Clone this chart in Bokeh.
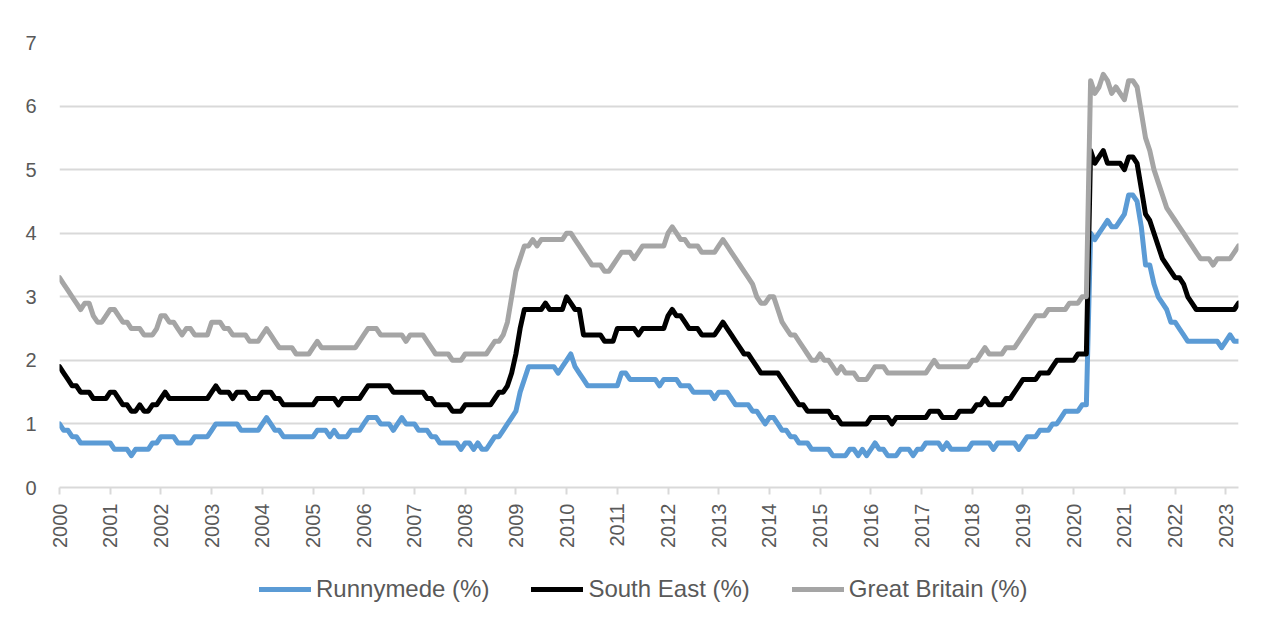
import math
from bokeh.plotting import figure
from bokeh.layouts import column
from bokeh.models import Range1d, FixedTicker, Legend, LegendItem
from bokeh.embed import file_html
from bokeh.resources import INLINE

# Monthly claimant rates, Jan 2000 .. Apr 2023 (one row per year)
runnymede = [
    1.0, 0.9, 0.9, 0.8, 0.8, 0.7, 0.7, 0.7, 0.7, 0.7, 0.7, 0.7,  # 2000
    0.7, 0.6, 0.6, 0.6, 0.6, 0.5, 0.6, 0.6, 0.6, 0.6, 0.7, 0.7,  # 2001
    0.8, 0.8, 0.8, 0.8, 0.7, 0.7, 0.7, 0.7, 0.8, 0.8, 0.8, 0.8,  # 2002
    0.9, 1.0, 1.0, 1.0, 1.0, 1.0, 1.0, 0.9, 0.9, 0.9, 0.9, 0.9,  # 2003
    1.0, 1.1, 1.0, 0.9, 0.9, 0.8, 0.8, 0.8, 0.8, 0.8, 0.8, 0.8,  # 2004
    0.8, 0.9, 0.9, 0.9, 0.8, 0.9, 0.8, 0.8, 0.8, 0.9, 0.9, 0.9,  # 2005
    1.0, 1.1, 1.1, 1.1, 1.0, 1.0, 1.0, 0.9, 1.0, 1.1, 1.0, 1.0,  # 2006
    1.0, 0.9, 0.9, 0.9, 0.8, 0.8, 0.7, 0.7, 0.7, 0.7, 0.7, 0.6,  # 2007
    0.7, 0.7, 0.6, 0.7, 0.6, 0.6, 0.7, 0.8, 0.8, 0.9, 1.0, 1.1,  # 2008
    1.2, 1.5, 1.7, 1.9, 1.9, 1.9, 1.9, 1.9, 1.9, 1.9, 1.8, 1.9,  # 2009
    2.0, 2.1, 1.9, 1.8, 1.7, 1.6, 1.6, 1.6, 1.6, 1.6, 1.6, 1.6,  # 2010
    1.6, 1.8, 1.8, 1.7, 1.7, 1.7, 1.7, 1.7, 1.7, 1.7, 1.6, 1.7,  # 2011
    1.7, 1.7, 1.7, 1.6, 1.6, 1.6, 1.5, 1.5, 1.5, 1.5, 1.5, 1.4,  # 2012
    1.5, 1.5, 1.5, 1.4, 1.3, 1.3, 1.3, 1.3, 1.2, 1.2, 1.1, 1.0,  # 2013
    1.1, 1.1, 1.0, 0.9, 0.9, 0.8, 0.8, 0.7, 0.7, 0.7, 0.6, 0.6,  # 2014
    0.6, 0.6, 0.6, 0.5, 0.5, 0.5, 0.5, 0.6, 0.6, 0.5, 0.6, 0.5,  # 2015
    0.6, 0.7, 0.6, 0.6, 0.5, 0.5, 0.5, 0.6, 0.6, 0.6, 0.5, 0.6,  # 2016
    0.6, 0.7, 0.7, 0.7, 0.7, 0.6, 0.7, 0.6, 0.6, 0.6, 0.6, 0.6,  # 2017
    0.7, 0.7, 0.7, 0.7, 0.7, 0.6, 0.7, 0.7, 0.7, 0.7, 0.7, 0.6,  # 2018
    0.7, 0.8, 0.8, 0.8, 0.9, 0.9, 0.9, 1.0, 1.0, 1.1, 1.2, 1.2,  # 2019
    1.2, 1.2, 1.3, 1.3, 4.0, 3.9, 4.0, 4.1, 4.2, 4.1, 4.1, 4.2,  # 2020
    4.3, 4.6, 4.6, 4.5, 4.1, 3.5, 3.5, 3.2, 3.0, 2.9, 2.8, 2.6,  # 2021
    2.6, 2.5, 2.4, 2.3, 2.3, 2.3, 2.3, 2.3, 2.3, 2.3, 2.3, 2.2,  # 2022
    2.3, 2.4, 2.3, 2.3,                                          # 2023
]

south_east = [
    1.9, 1.8, 1.7, 1.6, 1.6, 1.5, 1.5, 1.5, 1.4, 1.4, 1.4, 1.4,  # 2000
    1.5, 1.5, 1.4, 1.3, 1.3, 1.2, 1.2, 1.3, 1.2, 1.2, 1.3, 1.3,  # 2001
    1.4, 1.5, 1.4, 1.4, 1.4, 1.4, 1.4, 1.4, 1.4, 1.4, 1.4, 1.4,  # 2002
    1.5, 1.6, 1.5, 1.5, 1.5, 1.4, 1.5, 1.5, 1.5, 1.4, 1.4, 1.4,  # 2003
    1.5, 1.5, 1.5, 1.4, 1.4, 1.3, 1.3, 1.3, 1.3, 1.3, 1.3, 1.3,  # 2004
    1.3, 1.4, 1.4, 1.4, 1.4, 1.4, 1.3, 1.4, 1.4, 1.4, 1.4, 1.4,  # 2005
    1.5, 1.6, 1.6, 1.6, 1.6, 1.6, 1.6, 1.5, 1.5, 1.5, 1.5, 1.5,  # 2006
    1.5, 1.5, 1.5, 1.4, 1.4, 1.3, 1.3, 1.3, 1.3, 1.2, 1.2, 1.2,  # 2007
    1.3, 1.3, 1.3, 1.3, 1.3, 1.3, 1.3, 1.4, 1.5, 1.5, 1.6, 1.8,  # 2008
    2.1, 2.5, 2.8, 2.8, 2.8, 2.8, 2.8, 2.9, 2.8, 2.8, 2.8, 2.8,  # 2009
    3.0, 2.9, 2.8, 2.8, 2.4, 2.4, 2.4, 2.4, 2.4, 2.3, 2.3, 2.3,  # 2010
    2.5, 2.5, 2.5, 2.5, 2.5, 2.4, 2.5, 2.5, 2.5, 2.5, 2.5, 2.5,  # 2011
    2.7, 2.8, 2.7, 2.7, 2.6, 2.5, 2.5, 2.5, 2.4, 2.4, 2.4, 2.4,  # 2012
    2.5, 2.6, 2.5, 2.4, 2.3, 2.2, 2.1, 2.1, 2.0, 1.9, 1.8, 1.8,  # 2013
    1.8, 1.8, 1.8, 1.7, 1.6, 1.5, 1.4, 1.3, 1.3, 1.2, 1.2, 1.2,  # 2014
    1.2, 1.2, 1.2, 1.1, 1.1, 1.0, 1.0, 1.0, 1.0, 1.0, 1.0, 1.0,  # 2015
    1.1, 1.1, 1.1, 1.1, 1.1, 1.0, 1.1, 1.1, 1.1, 1.1, 1.1, 1.1,  # 2016
    1.1, 1.1, 1.2, 1.2, 1.2, 1.1, 1.1, 1.1, 1.1, 1.2, 1.2, 1.2,  # 2017
    1.2, 1.3, 1.3, 1.4, 1.3, 1.3, 1.3, 1.3, 1.4, 1.4, 1.5, 1.6,  # 2018
    1.7, 1.7, 1.7, 1.7, 1.8, 1.8, 1.8, 1.9, 2.0, 2.0, 2.0, 2.0,  # 2019
    2.0, 2.1, 2.1, 2.1, 5.3, 5.1, 5.2, 5.3, 5.1, 5.1, 5.1, 5.1,  # 2020
    5.0, 5.2, 5.2, 5.1, 4.7, 4.3, 4.2, 4.0, 3.8, 3.6, 3.5, 3.4,  # 2021
    3.3, 3.3, 3.2, 3.0, 2.9, 2.8, 2.8, 2.8, 2.8, 2.8, 2.8, 2.8,  # 2022
    2.8, 2.8, 2.8, 2.9,                                          # 2023
]

great_britain = [
    3.3, 3.2, 3.1, 3.0, 2.9, 2.8, 2.9, 2.9, 2.7, 2.6, 2.6, 2.7,  # 2000
    2.8, 2.8, 2.7, 2.6, 2.6, 2.5, 2.5, 2.5, 2.4, 2.4, 2.4, 2.5,  # 2001
    2.7, 2.7, 2.6, 2.6, 2.5, 2.4, 2.5, 2.5, 2.4, 2.4, 2.4, 2.4,  # 2002
    2.6, 2.6, 2.6, 2.5, 2.5, 2.4, 2.4, 2.4, 2.4, 2.3, 2.3, 2.3,  # 2003
    2.4, 2.5, 2.4, 2.3, 2.2, 2.2, 2.2, 2.2, 2.1, 2.1, 2.1, 2.1,  # 2004
    2.2, 2.3, 2.2, 2.2, 2.2, 2.2, 2.2, 2.2, 2.2, 2.2, 2.2, 2.3,  # 2005
    2.4, 2.5, 2.5, 2.5, 2.4, 2.4, 2.4, 2.4, 2.4, 2.4, 2.3, 2.4,  # 2006
    2.4, 2.4, 2.4, 2.3, 2.2, 2.1, 2.1, 2.1, 2.1, 2.0, 2.0, 2.0,  # 2007
    2.1, 2.1, 2.1, 2.1, 2.1, 2.1, 2.2, 2.3, 2.3, 2.4, 2.6, 3.0,  # 2008
    3.4, 3.6, 3.8, 3.8, 3.9, 3.8, 3.9, 3.9, 3.9, 3.9, 3.9, 3.9,  # 2009
    4.0, 4.0, 3.9, 3.8, 3.7, 3.6, 3.5, 3.5, 3.5, 3.4, 3.4, 3.5,  # 2010
    3.6, 3.7, 3.7, 3.7, 3.6, 3.7, 3.8, 3.8, 3.8, 3.8, 3.8, 3.8,  # 2011
    4.0, 4.1, 4.0, 3.9, 3.9, 3.8, 3.8, 3.8, 3.7, 3.7, 3.7, 3.7,  # 2012
    3.8, 3.9, 3.8, 3.7, 3.6, 3.5, 3.4, 3.3, 3.2, 3.0, 2.9, 2.9,  # 2013
    3.0, 3.0, 2.8, 2.6, 2.5, 2.4, 2.4, 2.3, 2.2, 2.1, 2.0, 2.0,  # 2014
    2.1, 2.0, 2.0, 1.9, 1.8, 1.9, 1.8, 1.8, 1.8, 1.7, 1.7, 1.7,  # 2015
    1.8, 1.9, 1.9, 1.9, 1.8, 1.8, 1.8, 1.8, 1.8, 1.8, 1.8, 1.8,  # 2016
    1.8, 1.8, 1.9, 2.0, 1.9, 1.9, 1.9, 1.9, 1.9, 1.9, 1.9, 1.9,  # 2017
    2.0, 2.0, 2.1, 2.2, 2.1, 2.1, 2.1, 2.1, 2.2, 2.2, 2.2, 2.3,  # 2018
    2.4, 2.5, 2.6, 2.7, 2.7, 2.7, 2.8, 2.8, 2.8, 2.8, 2.8, 2.9,  # 2019
    2.9, 2.9, 3.0, 3.0, 6.4, 6.2, 6.3, 6.5, 6.4, 6.2, 6.3, 6.2,  # 2020
    6.1, 6.4, 6.4, 6.3, 5.9, 5.5, 5.3, 5.0, 4.8, 4.6, 4.4, 4.3,  # 2021
    4.2, 4.1, 4.0, 3.9, 3.8, 3.7, 3.6, 3.6, 3.6, 3.5, 3.6, 3.6,  # 2022
    3.6, 3.6, 3.7, 3.8,                                          # 2023
]

year_labels = ["2000", "2001", "2002", "2003", "2004", "2005", "2006", "2007",
               "2008", "2009", "2010", "2011", "2012", "2013", "2014", "2015",
               "2016", "2017", "2018", "2019", "2020", "2021", "2022", "2023"]
y_ticks = [0, 1, 2, 3, 4, 5, 6, 7]
series_names = ["Runnymede (%)", "South East (%)", "Great Britain (%)"]
series_colors = ["#5b9bd5", "#000000", "#a5a5a5"]
series_values = [runnymede, south_east, great_britain]

month_index = list(range(len(runnymede)))
year_ticks = [12 * i for i in range(len(year_labels))]

FONT = "Liberation Sans"
TEXT = "#595959"
GRID = "#d9d9d9"
LINE_W = 5

# ---------------- main chart ----------------
p = figure(width=1266, height=555, output_backend="svg", toolbar_location=None,
           x_range=Range1d(0, len(runnymede) - 1), y_range=Range1d(0, 7),
           min_border_left=59, min_border_right=28, min_border_top=42,
           min_border_bottom=68)
p.outline_line_color = None
p.background_fill_color = "white"
p.border_fill_color = "white"

p.xaxis.ticker = FixedTicker(ticks=year_ticks)
p.xaxis.major_label_overrides = {t: lab for t, lab in zip(year_ticks, year_labels)}
p.xaxis.major_label_orientation = math.pi / 2
p.xaxis.axis_line_color = GRID
p.xaxis.axis_line_width = 2
p.xaxis.major_tick_line_color = GRID
p.xaxis.major_tick_line_width = 2
p.xaxis.major_tick_in = 0
p.xaxis.major_tick_out = 7
p.xaxis.minor_tick_line_color = None
p.xaxis.major_label_standoff = 9
p.xaxis.major_label_text_font = FONT
p.xaxis.major_label_text_font_size = "20px"
p.xaxis.major_label_text_color = TEXT

p.yaxis.ticker = FixedTicker(ticks=y_ticks)
p.yaxis.axis_line_color = None
p.yaxis.major_tick_line_color = None
p.yaxis.minor_tick_line_color = None
p.yaxis.major_tick_out = 0
p.yaxis.major_tick_in = 0
p.yaxis.major_label_standoff = 23
p.yaxis.major_label_text_font = FONT
p.yaxis.major_label_text_font_size = "20px"
p.yaxis.major_label_text_color = TEXT

p.xgrid.grid_line_color = None
p.ygrid.ticker = FixedTicker(ticks=y_ticks)
p.ygrid.grid_line_color = GRID
p.ygrid.grid_line_width = 2

for vals, col in zip(series_values, series_colors):
    p.line(month_index, vals, line_color=col, line_width=LINE_W,
           line_join="round", line_cap="round")

# ---------------- legend strip ----------------
# same series drawn again, but outside this strip's visible range, only to carry the legend
q = figure(width=1266, height=62, output_backend="svg", toolbar_location=None,
           x_range=Range1d(0, 1), y_range=Range1d(-20, -19),
           x_axis_location=None, y_axis_location=None,
           min_border_left=0, min_border_right=0, min_border_top=0, min_border_bottom=0)
q.outline_line_color = None
q.xgrid.grid_line_color = None
q.ygrid.grid_line_color = None
q.background_fill_color = "white"
q.border_fill_color = "white"

items = []
for name, vals, col in zip(series_names, series_values, series_colors):
    r = q.line(month_index, vals, line_color=col, line_width=LINE_W, line_cap="round")
    items.append(LegendItem(label=name, renderers=[r]))

legend = Legend(items=items, orientation="horizontal", location=(200, 14),
                padding=0, margin=0, spacing=42, glyph_width=52, glyph_height=28,
                label_height=28, label_standoff=5,
                label_text_font=FONT, label_text_font_size="24px",
                label_text_color=TEXT, border_line_color=None,
                background_fill_alpha=0)
q.add_layout(legend)

layout = column(p, q, spacing=0)
open("out.html", "w").write(file_html(layout, INLINE))
